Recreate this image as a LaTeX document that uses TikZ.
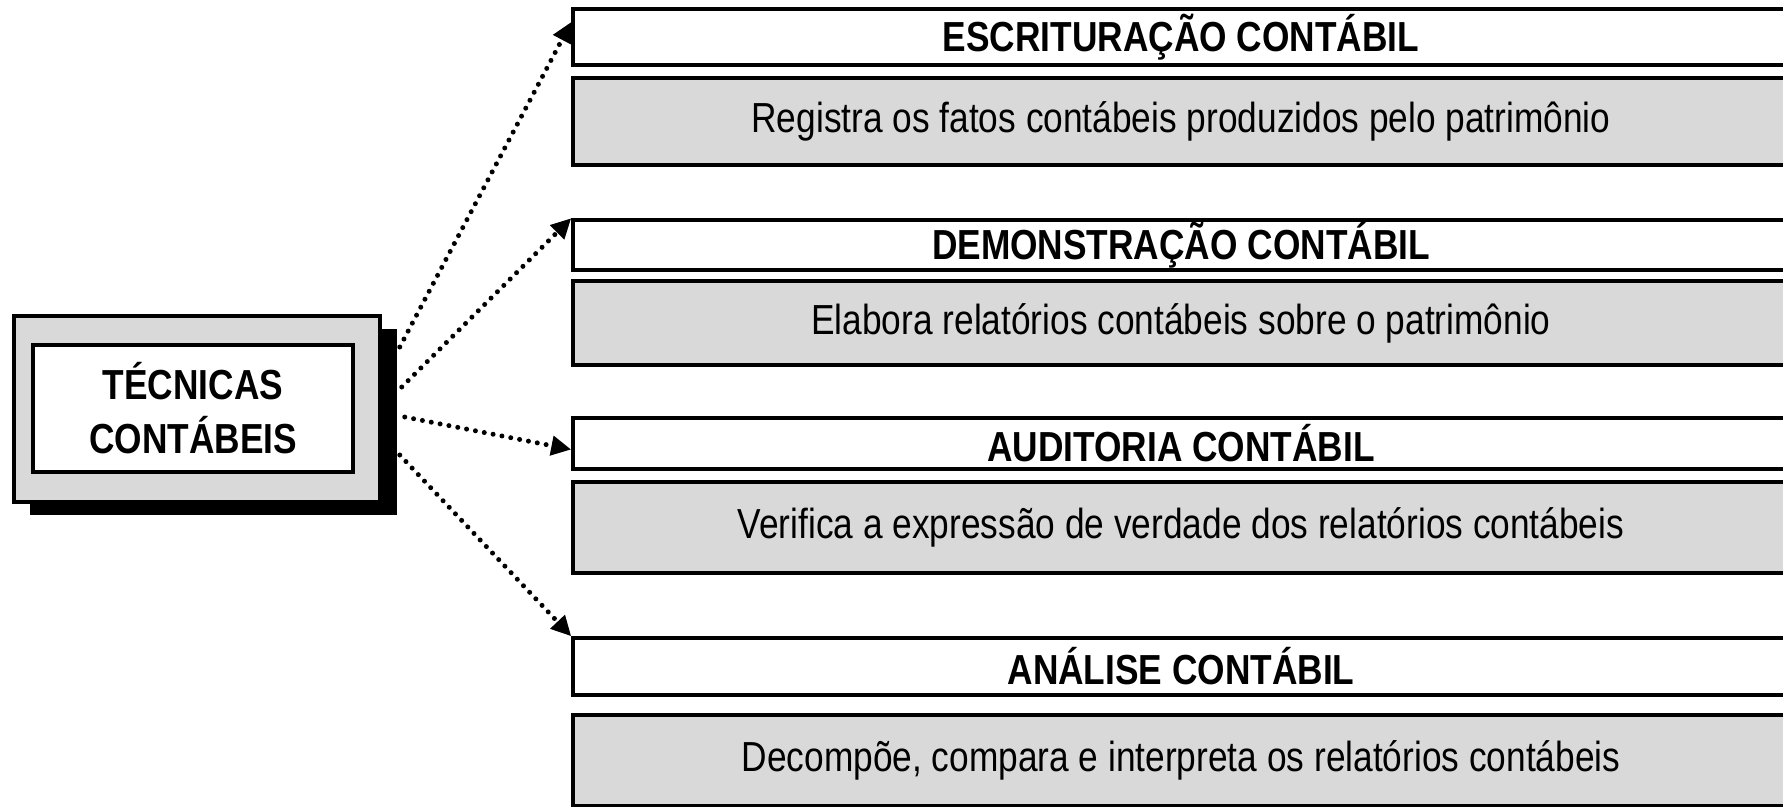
\documentclass[tikz,border=0pt]{standalone}
\usepackage{fontspec}
\setmainfont{Liberation Sans}[FakeStretch=0.84]
\usetikzlibrary{arrows.meta,shadows,calc}

\tikzset{every picture/.style={line width=1.4pt}}
\tikzset{
  tecframe/.style={draw, fill=gray!30, inner sep=0pt, minimum width=146.4pt, minimum height=74.4pt,
    drop shadow={shadow xshift=6.6pt, shadow yshift=-5.2pt, fill=black, opacity=1}},
  tecinner/.style={draw, fill=white, inner sep=0pt, minimum width=128pt, minimum height=50.8pt,
    align=center, font=\bfseries},
  titlebox/.style={draw, fill=white, inner sep=0pt, minimum width=486.4pt, font=\bfseries},
  descbox/.style={draw, fill=gray!30, inner sep=0pt, minimum width=486.4pt},
  dotarrow/.style={line width=2pt, line cap=round, dash pattern=on 0pt off 3.6pt,
    -{Triangle[length=8pt,width=7.6pt]}}
}

\begin{document}
\fontsize{16.8}{21.6}\selectfont
\begin{tikzpicture}[x=0.4pt,y=0.4pt,yscale=-1,xscale=1]
\useasboundingbox (0,0) rectangle (1783,806);
\clip (0,0) rectangle (1783,806);

%Shape: Rectangle with shadow
\node [tecframe] (tec) at (197,409) {};
% Text Node
\node [tecinner] (tecin) at (193,408.5) {TÉCNICAS\\CONTÁBEIS};

%Shape: Rectangle
\node [titlebox, minimum height=22.4pt] (esc) at (1181,37) {ESCRITURAÇÃO CONTÁBIL};
\node [descbox, minimum height=34.8pt] (escd) at (1181,121.5) {Registra os fatos contábeis produzidos pelo patrimônio};
%Shape: Rectangle
\node [titlebox, minimum height=20pt] (dem) at (1181,245) {DEMONSTRAÇÃO CONTÁBIL};
\node [descbox, minimum height=33.6pt] (demd) at (1181,323) {Elabora relatórios contábeis sobre o patrimônio};
%Shape: Rectangle
\node [titlebox, minimum height=20.4pt] (aud) at (1181,443.5) {AUDITORIA CONTÁBIL};
\node [descbox, minimum height=36.4pt] (audd) at (1181,527.5) {Verifica a expressão de verdade dos relatórios contábeis};
%Shape: Rectangle
\node [titlebox, minimum height=22.8pt] (ana) at (1181,666.5) {ANÁLISE CONTÁBIL};
\node [descbox, minimum height=36.4pt] (anad) at (1181,760.5) {Decompõe, compara e interpreta os relatórios contábeis};

%Straight Lines [dotted]
\draw [dotarrow] ($(tec.east)+(18,-62)$) -- ($(esc.west)+(0,-15)$);
\draw [dotarrow] ($(tec.east)+(20,-22)$) -- (dem.north west);
\draw [dotarrow] ($(tec.east)+(23,8)$) -- ($(aud.west)+(0,6)$);
\draw [dotarrow] ($(tec.east)+(18,46)$) -- (ana.north west);

\end{tikzpicture}
\end{document}
